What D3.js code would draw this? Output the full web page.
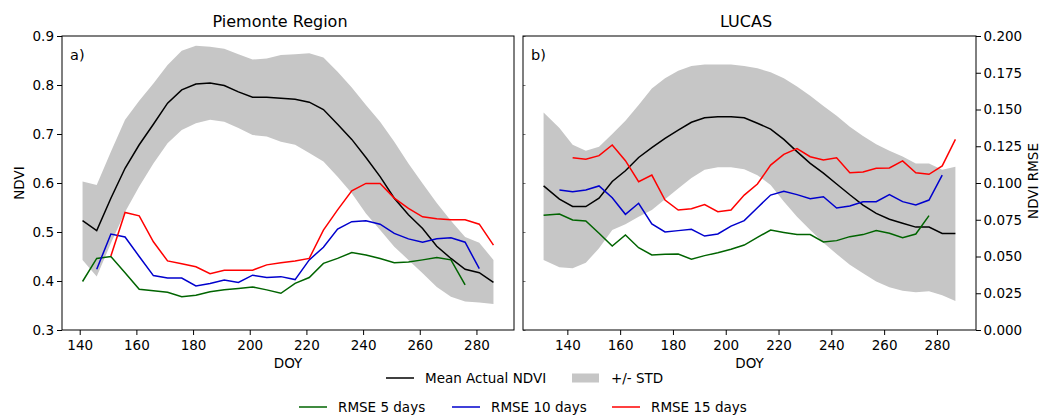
<!DOCTYPE html>
<html>
<head>
<meta charset="utf-8">
<script src="https://cdn.jsdelivr.net/npm/d3@7"></script>
<style>
  body { margin: 0; background: #fff; }
  svg { display: block; font-family: "DejaVu Sans", sans-serif; }
</style>
</head>
<body>
<div id="chart"></div>
<script>
// ---- data ----
let leftDoy = [141, 146, 151, 156, 161, 166, 171, 176, 181, 186, 191, 196, 201, 206, 211,
    216, 221, 226, 231, 236, 241, 246, 251, 256, 261, 266, 271, 276, 281, 286]
let leftMean = [0.523, 0.503, 0.569, 0.630, 0.678, 0.720, 0.763, 0.790, 0.802, 0.804, 0.799, 0.786, 0.775, 0.775, 0.773,
    0.771, 0.765, 0.750, 0.720, 0.689, 0.652, 0.613, 0.569, 0.535, 0.507, 0.471, 0.446, 0.424, 0.417, 0.397]
let leftUpper = [0.603, 0.596, 0.664, 0.729, 0.768, 0.803, 0.841, 0.870, 0.880, 0.878, 0.874, 0.863, 0.852, 0.854, 0.861,
    0.863, 0.865, 0.856, 0.827, 0.795, 0.759, 0.725, 0.684, 0.640, 0.599, 0.559, 0.523, 0.490, 0.478, 0.443]
let leftLower = [0.443, 0.409, 0.477, 0.541, 0.593, 0.640, 0.681, 0.708, 0.722, 0.729, 0.725, 0.712, 0.698, 0.695, 0.684,
    0.678, 0.661, 0.644, 0.613, 0.579, 0.538, 0.504, 0.470, 0.443, 0.416, 0.388, 0.368, 0.358, 0.356, 0.353]
// RMSE series start at leftDoy[0], [1], [2]
let leftRmse5 = [0.0330, 0.0487, 0.0500, 0.0390, 0.0277, 0.0267, 0.0257, 0.0227, 0.0237, 0.0260, 0.0273, 0.0283, 0.0293, 0.0273,
    0.0250, 0.0317, 0.0357, 0.0453, 0.0487, 0.0527, 0.0510, 0.0487, 0.0457, 0.0463, 0.0477, 0.0493, 0.0477, 0.0307]
let leftRmse10 = [0.0413, 0.0653, 0.0633, 0.0500, 0.0370, 0.0353, 0.0353, 0.0300, 0.0317, 0.0340, 0.0323, 0.0373, 0.0357, 0.0363,
    0.0343, 0.0477, 0.0563, 0.0687, 0.0737, 0.0743, 0.0720, 0.0657, 0.0620, 0.0597, 0.0620, 0.0627, 0.0597, 0.0417]
let leftRmse15 = [0.0503, 0.0800, 0.0777, 0.0600, 0.0470, 0.0450, 0.0430, 0.0383, 0.0407, 0.0407, 0.0407, 0.0443, 0.0457, 0.0470,
    0.0487, 0.0680, 0.0817, 0.0947, 0.0997, 0.0997, 0.0897, 0.0827, 0.0770, 0.0757, 0.0750, 0.0750, 0.0720, 0.0577]

let rightDoy = [131, 137, 142, 147, 152, 157, 162, 167, 172, 177, 182, 187, 192, 197, 202, 207,
    212, 217, 222, 227, 232, 237, 242, 247, 252, 257, 262, 267, 272, 277, 282, 287]
let rightMean = [0.594, 0.567, 0.552, 0.552, 0.569, 0.603, 0.625, 0.652, 0.672, 0.691, 0.708, 0.724, 0.733, 0.735, 0.735, 0.733,
    0.722, 0.710, 0.689, 0.664, 0.640, 0.620, 0.598, 0.576, 0.555, 0.538, 0.526, 0.518, 0.510, 0.510, 0.497, 0.497]
let rightUpper = [0.744, 0.712, 0.678, 0.666, 0.674, 0.700, 0.727, 0.759, 0.793, 0.814, 0.829, 0.839, 0.842, 0.842, 0.842, 0.839,
    0.834, 0.826, 0.814, 0.797, 0.778, 0.757, 0.737, 0.715, 0.696, 0.679, 0.666, 0.654, 0.640, 0.640, 0.627, 0.633]
let rightLower = [0.443, 0.428, 0.426, 0.437, 0.467, 0.504, 0.516, 0.531, 0.545, 0.567, 0.589, 0.610, 0.627, 0.632, 0.632, 0.628,
    0.616, 0.596, 0.562, 0.531, 0.504, 0.478, 0.455, 0.433, 0.416, 0.399, 0.387, 0.380, 0.377, 0.379, 0.371, 0.359]
let rightRmse5 = [0.0780, 0.0789, 0.0748, 0.0741, 0.0658, 0.0571, 0.0646, 0.0560, 0.0510, 0.0515, 0.0517, 0.0481, 0.0506, 0.0526, 0.0549,
    0.0578, 0.0630, 0.0680, 0.0664, 0.0649, 0.0649, 0.0599, 0.0608, 0.0635, 0.0649, 0.0676, 0.0658, 0.0628, 0.0653, 0.0778]
let rightRmse10 = [0.0952, 0.0941, 0.0952, 0.0980, 0.0900, 0.0787, 0.0862, 0.0721, 0.0667, 0.0676, 0.0685, 0.0639, 0.0653, 0.0707, 0.0744,
    0.0832, 0.0918, 0.0943, 0.0921, 0.0893, 0.0907, 0.0830, 0.0844, 0.0873, 0.0873, 0.0921, 0.0873, 0.0850, 0.0884, 0.1054]
let rightRmse15 = [0.1172, 0.1161, 0.1186, 0.1259, 0.1152, 0.1009, 0.1054, 0.0884, 0.0816, 0.0825, 0.0853, 0.0805, 0.0816, 0.0918, 0.0993,
    0.1122, 0.1195, 0.1234, 0.1179, 0.1156, 0.1172, 0.1070, 0.1075, 0.1100, 0.1102, 0.1150, 0.1070, 0.1059, 0.1116, 0.1297]

let xTicks = [140, 160, 180, 200, 220, 240, 260, 280]
let ndviTicks = [0.3, 0.4, 0.5, 0.6, 0.7, 0.8, 0.9]
let rmseTicks = [0, 0.025, 0.05, 0.075, 0.1, 0.125, 0.15, 0.175, 0.2]

let COLORS = {mean: "#000000", std: "#c6c6c6", r5: "#006400", r10: "#0000cd", r15: "#ff0000"}

let width = 1040
let height = 416
let fontSize = 13.5

let svg = d3.select("#chart").append("svg")
    .attr("width", width)
    .attr("height", height)

let yNdvi = d3.scaleLinear().domain([0.3, 0.9]).range([330, 36])
let yRmse = d3.scaleLinear().domain([0, 0.2]).range([330, 36])

let panels = [
    {
        x: d3.scaleLinear().domain([133.75, 293.25]).range([62, 514]),
        doy: leftDoy, mean: leftMean, upper: leftUpper, lower: leftLower,
        rmse: [[leftRmse5, 0, COLORS.r5], [leftRmse10, 1, COLORS.r10], [leftRmse15, 2, COLORS.r15]],
        title: "Piemonte Region", titleX: 280, tag: "a)"
    },
    {
        x: d3.scaleLinear().domain([123.2, 294.8]).range([523, 976]),
        doy: rightDoy, mean: rightMean, upper: rightUpper, lower: rightLower,
        rmse: [[rightRmse5, 0, COLORS.r5], [rightRmse10, 1, COLORS.r10], [rightRmse15, 2, COLORS.r15]],
        title: "LUCAS", titleX: 746, tag: "b)"
    }
]

function styleAxis(g) {
    g.select(".domain").remove()
    g.selectAll("line").attr("stroke", "#000").attr("stroke-width", 1)
    g.selectAll("text").attr("fill", "#000").style("font-size", fontSize + "px")
        .style("font-family", '"DejaVu Sans", sans-serif')
}

panels.forEach((p, i) => {
    let x = p.x
    let g = svg.append("g")

    // std band
    let area = d3.area()
        .x((d, k) => x(p.doy[k]))
        .y0((d, k) => yNdvi(p.lower[k]))
        .y1((d, k) => yNdvi(p.upper[k]))
    g.append("path")
        .datum(p.doy)
        .attr("d", area)
        .attr("fill", COLORS.std)

    // mean NDVI line
    let meanLine = d3.line()
        .x((d, k) => x(p.doy[k]))
        .y(d => yNdvi(d))
    g.append("path")
        .datum(p.mean)
        .attr("d", meanLine)
        .attr("fill", "none")
        .attr("stroke", COLORS.mean)
        .attr("stroke-width", 1.5)

    // RMSE lines on the twin axis
    p.rmse.forEach(([values, offset, color]) => {
        let line = d3.line()
            .x((d, k) => x(p.doy[k + offset]))
            .y(d => yRmse(d))
        g.append("path")
            .datum(values)
            .attr("d", line)
            .attr("fill", "none")
            .attr("stroke", color)
            .attr("stroke-width", 1.5)
    })

    // axes
    let [x0, x1] = x.range()
    let xAxis = g.append("g")
        .attr("transform", `translate(0, 330)`)
        .call(d3.axisBottom(x).tickValues(xTicks).tickSize(5).tickPadding(5).tickSizeOuter(0))
    styleAxis(xAxis)

    if (i === 0) {
        let yAxis = g.append("g")
            .attr("transform", `translate(${x0}, 0)`)
            .call(d3.axisLeft(yNdvi).tickValues(ndviTicks).tickFormat(d3.format(".1f"))
                .tickSize(5).tickPadding(3).tickSizeOuter(0))
        styleAxis(yAxis)
    } else {
        let yAxis = g.append("g")
            .attr("transform", `translate(${x0}, 0)`)
            .call(d3.axisLeft(yNdvi).tickValues(ndviTicks).tickFormat("").tickSize(-2.5).tickSizeOuter(0))
        styleAxis(yAxis)
        yAxis.selectAll("line").attr("stroke", "#777")

        let rAxis = g.append("g")
            .attr("transform", `translate(${x1}, 0)`)
            .call(d3.axisRight(yRmse).tickValues(rmseTicks).tickFormat(d3.format(".3f"))
                .tickSize(5).tickPadding(2.5).tickSizeOuter(0))
        styleAxis(rAxis)
    }

    // frame
    g.append("rect")
        .attr("x", x0).attr("y", 36)
        .attr("width", x1 - x0).attr("height", 294)
        .attr("fill", "none")
        .attr("stroke", "#000")
        .attr("stroke-width", 1)

    g.append("text")
        .attr("x", p.titleX).attr("y", 27)
        .attr("text-anchor", "middle")
        .style("font-size", "16px")
        .text(p.title)

    g.append("text")
        .attr("x", x0 + 8).attr("y", 60)
        .style("font-size", "14.5px")
        .text(p.tag)

    g.append("text")
        .attr("x", (x0 + x1) / 2).attr("y", 368)
        .attr("text-anchor", "middle")
        .style("font-size", fontSize + "px")
        .text("DOY")
})

svg.append("text")
    .attr("transform", "translate(24, 183) rotate(-90)")
    .attr("text-anchor", "middle")
    .style("font-size", fontSize + "px")
    .text("NDVI")

svg.append("text")
    .attr("transform", "translate(1038, 181) rotate(-90)")
    .attr("text-anchor", "middle")
    .style("font-size", fontSize + "px")
    .text("NDVI RMSE")

// legend
let legendItems = [
    {label: "Mean Actual NDVI", color: COLORS.mean, kind: "line", x: 386, y: 378},
    {label: "+/- STD", color: COLORS.std, kind: "patch", x: 572, y: 378},
    {label: "RMSE 5 days", color: COLORS.r5, kind: "line", x: 299, y: 407},
    {label: "RMSE 10 days", color: COLORS.r10, kind: "line", x: 452, y: 407},
    {label: "RMSE 15 days", color: COLORS.r15, kind: "line", x: 612, y: 407}
]

let legend = svg.append("g")
legendItems.forEach(item => {
    if (item.kind === "line") {
        legend.append("line")
            .attr("x1", item.x).attr("x2", item.x + 28)
            .attr("y1", item.y).attr("y2", item.y)
            .attr("stroke", item.color)
            .attr("stroke-width", 1.5)
    } else {
        legend.append("rect")
            .attr("x", item.x).attr("y", item.y - 4.5)
            .attr("width", 27).attr("height", 9)
            .attr("fill", item.color)
    }
    legend.append("text")
        .attr("x", item.x + 39).attr("y", item.y)
        .attr("dy", "0.35em")
        .style("font-size", fontSize + "px")
        .text(item.label)
})
</script>
</body>
</html>
